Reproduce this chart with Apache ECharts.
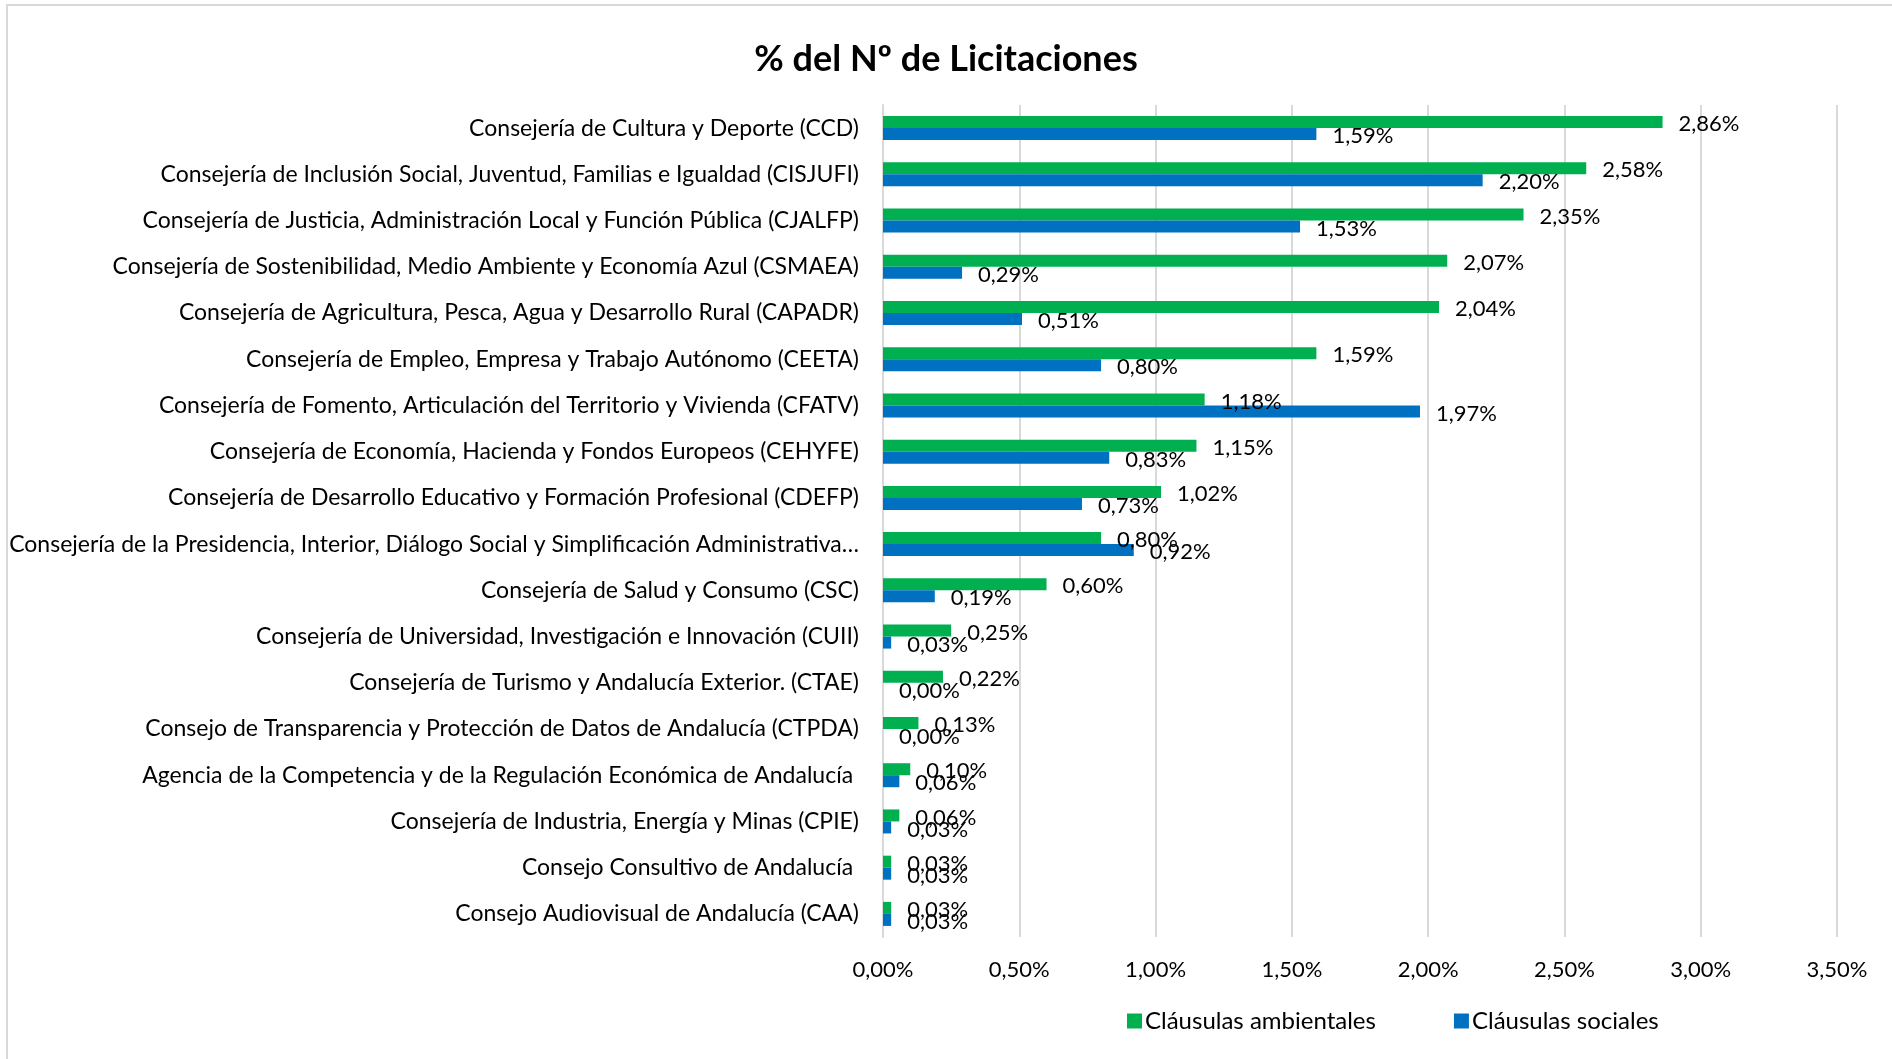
<!DOCTYPE html>
<html>
<head>
<meta charset="utf-8">
<title>% del Nº de Licitaciones</title>
<script src="https://cdn.jsdelivr.net/npm/echarts@6/dist/echarts.min.js"></script>
<style>
    html, body {margin: 0; padding: 0; background: #fff;}
    #main {width: 1892px; height: 1059px;}
</style>
</head>
<body>
<div id="main"></div>
<script>
// categorias (de arriba a abajo)
var categorias = [
    'Consejería de Cultura y Deporte (CCD)',
    'Consejería de Inclusión Social, Juventud, Familias e Igualdad (CISJUFI)',
    'Consejería de Justicia, Administración Local y Función Pública (CJALFP)',
    'Consejería de Sostenibilidad, Medio Ambiente y Economía Azul (CSMAEA)',
    'Consejería de Agricultura, Pesca, Agua y Desarrollo Rural (CAPADR)',
    'Consejería de Empleo, Empresa y Trabajo Autónomo (CEETA)',
    'Consejería de Fomento, Articulación del Territorio y Vivienda (CFATV)',
    'Consejería de Economía, Hacienda y Fondos Europeos (CEHYFE)',
    'Consejería de Desarrollo Educativo y Formación Profesional (CDEFP)',
    'Consejería de la Presidencia, Interior, Diálogo Social y Simplificación Administrativa…',
    'Consejería de Salud y Consumo (CSC)',
    'Consejería de Universidad, Investigación e Innovación (CUII)',
    'Consejería de Turismo y Andalucía Exterior. (CTAE)',
    'Consejo de Transparencia y Protección de Datos de Andalucía (CTPDA)',
    'Agencia de la Competencia y de la Regulación Económica de Andalucía ',
    'Consejería de Industria, Energía y Minas (CPIE)',
    'Consejo Consultivo de Andalucía ',
    'Consejo Audiovisual de Andalucía (CAA)'
];

// valores en %
var ambientales = [2.86, 2.58, 2.35, 2.07, 2.04, 1.59, 1.18, 1.15, 1.02, 0.80, 0.60, 0.25, 0.22, 0.13, 0.10, 0.06, 0.03, 0.03];
var sociales = [1.59, 2.20, 1.53, 0.29, 0.51, 0.80, 1.97, 0.83, 0.73, 0.92, 0.19, 0.03, 0.00, 0.00, 0.06, 0.03, 0.03, 0.03];

var FONT = 'Lato';

function pct(v) {
    return Number(v).toFixed(2).replace('.', ',') + '%';
}

function etiqueta() {
    return {
        show: true,
        position: 'right',
        distance: 16,
        offset: [0, 2],
        fontFamily: FONT,
        fontSize: 22,
        color: '#000',
        formatter: function (p) { return pct(p.value); }
    };
}

var option = {
    backgroundColor: '#fff',
    textStyle: {fontFamily: FONT},
    title: {
        text: '% del Nº de Licitaciones',
        left: 'center',
        top: 36,
        textStyle: {fontFamily: FONT, fontSize: 36, fontWeight: 'bold', color: '#000'}
    },
    graphic: [{
        type: 'rect',
        shape: {x: 7, y: 5, width: 1900, height: 1100},
        style: {fill: 'none', stroke: '#d9d9d9', lineWidth: 2},
        silent: true
    }],
    legend: {
        data: ['Cláusulas ambientales', 'Cláusulas sociales'],
        left: 1122,
        top: 1004,
        icon: 'rect',
        itemWidth: 15,
        itemHeight: 15,
        itemGap: 78,
        textStyle: {fontFamily: FONT, fontSize: 24, color: '#000', padding: [0, 0, 0, -2]}
    },
    grid: {
        left: 883,
        right: 55,
        top: 105,
        bottom: 122,
        containLabel: false
    },
    xAxis: {
        type: 'value',
        min: 0,
        max: 3.5,
        interval: 0.5,
        axisLine: {show: false},
        axisTick: {show: false},
        splitLine: {lineStyle: {color: '#d9d9d9', width: 2}},
        axisLabel: {
            fontFamily: FONT,
            fontSize: 22,
            color: '#000',
            margin: 22,
            formatter: function (v) { return pct(v); }
        }
    },
    yAxis: {
        type: 'category',
        inverse: true,
        data: categorias,
        axisLine: {lineStyle: {color: '#d9d9d9', width: 2}},
        axisTick: {show: false},
        axisLabel: {fontFamily: FONT, fontSize: 23, color: '#000', margin: 24}
    },
    series: [
        {
            name: 'Cláusulas ambientales',
            type: 'bar',
            data: ambientales,
            barWidth: 12,
            barGap: '0%',
            itemStyle: {color: '#00B050'},
            label: etiqueta()
        },
        {
            name: 'Cláusulas sociales',
            type: 'bar',
            data: sociales,
            barWidth: 12,
            barGap: '0%',
            itemStyle: {color: '#0070C0'},
            label: etiqueta()
        }
    ]
};

var chart = echarts.init(document.getElementById('main'));
chart.setOption(option);
</script>
</body>
</html>
